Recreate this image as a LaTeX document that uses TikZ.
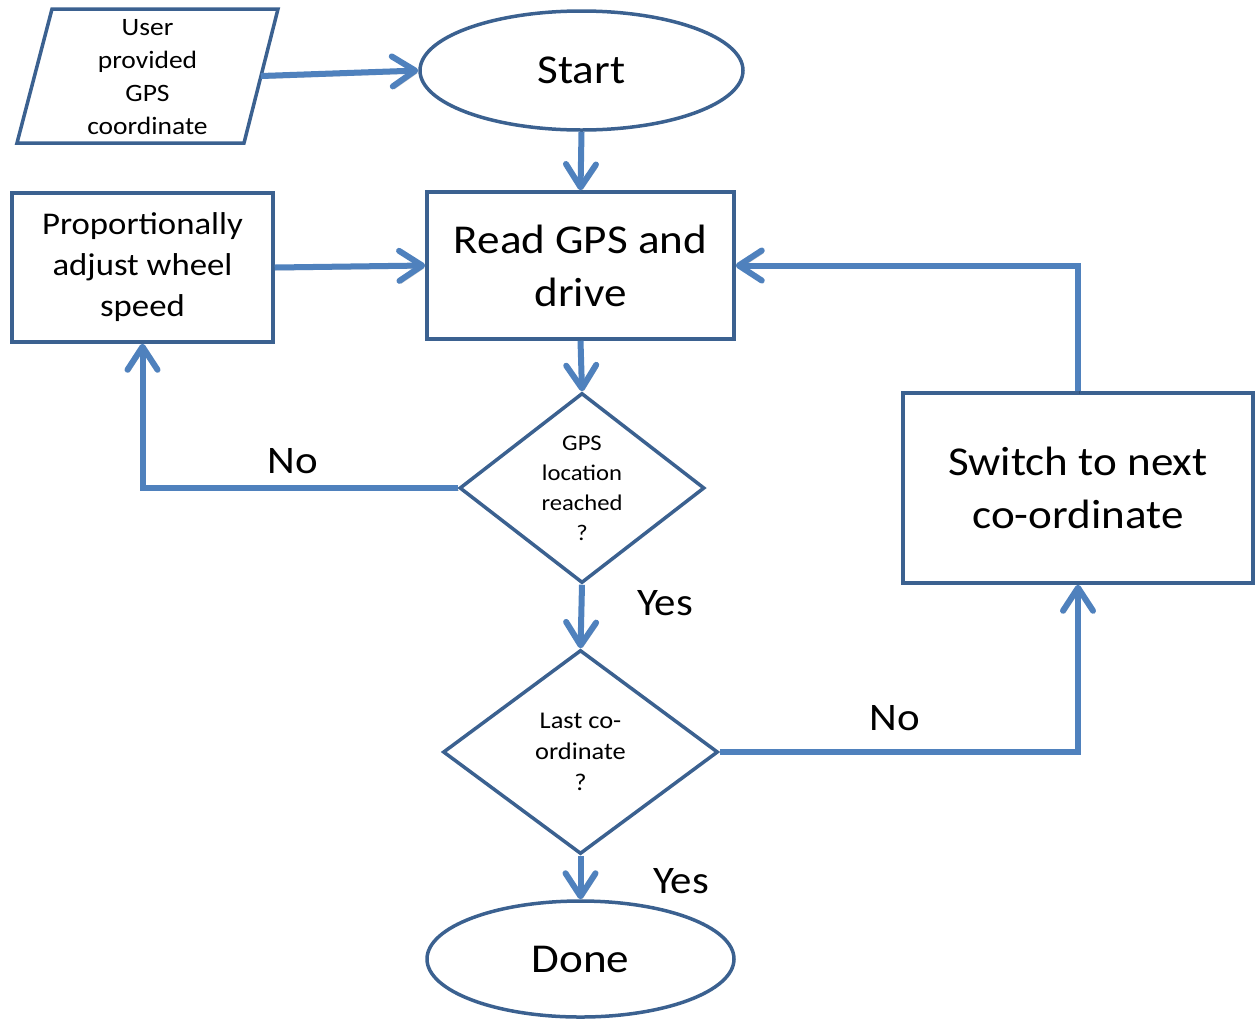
\documentclass[tikz,border=0pt]{standalone}
\usepackage{fontspec}
\setmainfont{Carlito}[FakeStretch=1.1]
\usetikzlibrary{shapes.geometric,arrows.meta}
\definecolor{edgeblue}{HTML}{3B6190}
\definecolor{linkblue}{HTML}{4F81BD}
\tikzset{
  outline/.style={draw=edgeblue, line width=1.75pt, line join=miter},
  termbox/.style={outline, ellipse, inner sep=0pt},
  procbox/.style={outline, rectangle, inner sep=0pt, align=center},
  decbox/.style={outline, diamond, inner sep=0pt, align=center},
  link/.style={draw=linkblue, line width=3pt,
    -{Straight Barb[round, length=11.5pt, width=15pt]},
    preaction={draw=black, opacity=0.18,
      transform canvas={shift={(0.8pt,-1.3pt)}}}},
  big/.style={font=\fontsize{20.5}{26.5}\selectfont},
  lbl/.style={font=\fontsize{19.5}{23}\selectfont, inner sep=0pt}
}
\begin{document}
\begin{tikzpicture}[x=0.5pt, y=-0.5pt]
\useasboundingbox (0,0) rectangle (1257,1018);

% input parallelogram
\draw[outline] (52,9) -- (278,9) -- (244,143) -- (17,143) -- cycle;
\node[align=center, inner sep=0pt, font=\fontsize{12.5}{16.5}\selectfont]
  (inp) at (147.5,77) {User\\provided\\GPS\\coordinate};
\coordinate (inpR) at (261,76);

% main flow
\node[termbox, big, minimum width=161.5pt, minimum height=59.5pt]
  (start) at (581.5,70.5) {Start};
\node[procbox, big, minimum width=153.5pt, minimum height=73.5pt]
  (read) at (580.5,265.5) {Read GPS and\\drive};
\node[procbox, font=\fontsize{15.8}{20.5}\selectfont,
  minimum width=130.5pt, minimum height=74.5pt]
  (prop) at (142.5,267.5) {Proportionally\\adjust wheel\\speed};
\node[decbox, font=\fontsize{11.2}{15}\selectfont,
  minimum width=122.5pt, minimum height=95pt, aspect=1.29]
  (reach) at (582,488) {GPS\\location\\reached\\?};
\node[decbox, font=\fontsize{12}{15.5}\selectfont,
  minimum width=137.5pt, minimum height=102pt, aspect=1.35]
  (last) at (580.5,752) {Last co-\\ordinate\\?};
\node[procbox, big, minimum width=175pt, minimum height=95pt]
  (next) at (1078,488) {Switch to next\\co-ordinate};
\node[termbox, big, minimum width=153.5pt, minimum height=58pt]
  (done) at (580.5,959) {Done};

% branch labels
\node[lbl] (noA) at (293,461) {No};
\node[lbl] (yesA) at (665,603) {Yes};
\node[lbl] (noB) at (895,718) {No};
\node[lbl] (yesB) at (681,881) {Yes};

% connectors
\draw[link] (inpR) -- (start.west);
\draw[link] (start.south) -- (read.north);
\draw[link] (prop.east) -- (read.west);
\draw[link] (read.south) -- (reach.north);
\draw[link] (reach.west) -| (prop.south);
\draw[link] (reach.south) -- (last.north);
\draw[link] (last.east) -| (next.south);
\draw[link] (next.north) |- (read.east);
\draw[link] (last.south) -- (done.north);
\end{tikzpicture}
\end{document}
